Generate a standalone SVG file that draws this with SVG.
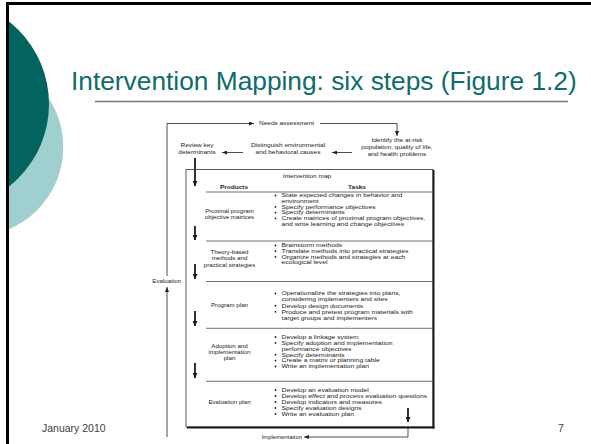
<svg xmlns="http://www.w3.org/2000/svg" width="591" height="444" viewBox="0 0 591 444">
<style>
.f{font-family:"Liberation Sans",Arial,sans-serif;fill:#1c1c1c;font-size:5.9px}
.b{font-weight:bold}
.m{text-anchor:middle}
.ln{stroke:#222;stroke-width:0.8;fill:none}
.bd{stroke:#1a1a1a;stroke-width:1.8;fill:none}
.sep{stroke:#333;stroke-width:0.7}
</style>
<defs>
<clipPath id="slide"><rect x="8" y="4" width="583" height="440"/></clipPath>
<marker id="ah" markerUnits="userSpaceOnUse" markerWidth="5" markerHeight="4" refX="5" refY="2" orient="auto"><path d="M0,0 L5,2 L0,4 z" fill="#222"/></marker>
<marker id="ahb" markerUnits="userSpaceOnUse" markerWidth="5" markerHeight="5" refX="5" refY="2.5" orient="auto"><path d="M0,0 L5,2.5 L0,5 z" fill="#1a1a1a"/></marker>
</defs>
<rect width="591" height="444" fill="#fff"/>
<g id="decor" clip-path="url(#slide)">
<circle cx="-26" cy="147" r="89.3" fill="#9fcfcf"/>
<circle cx="-56" cy="104" r="105" fill="#03645f"/>
</g>
<g id="frame" stroke="#000" stroke-width="3">
<line x1="6" y1="3.5" x2="591" y2="3.5"/>
<line x1="7.5" y1="2" x2="7.5" y2="444"/>
</g>
<g id="title">
<text x="71" y="89.5" font-family="'Liberation Sans',Arial,sans-serif" font-size="26.3" fill="#0e6c69">Intervention Mapping: six steps (Figure 1.2)</text>
<line x1="95" y1="101.5" x2="568" y2="101.5" stroke="#7a7a7a" stroke-width="1.3"/>
</g>
<g id="footer" font-family="'Liberation Sans',Arial,sans-serif" font-size="10.5" fill="#404040">
<text x="42" y="432">January 2010</text>
<text x="558" y="432">7</text>
</g>

<g id="connectors">
<path class="ln" d="M167,276 V123.5 H254" marker-end="url(#ah)"/>
<path class="ln" d="M320,123.5 H397 V136" marker-end="url(#ah)"/>
<path class="ln" d="M352,152.5 H332" marker-end="url(#ah)"/>
<path class="ln" d="M243,152.5 H222" marker-end="url(#ah)"/>
<path class="ln" d="M167,437 V287" marker-end="url(#ah)"/>
<path class="ln" d="M408,427 V437 H304" marker-end="url(#ah)"/>
<path class="bd" d="M195,158 V186" marker-end="url(#ahb)"/>
<path class="bd" d="M195,226 V240" marker-end="url(#ahb)"/>
<path class="bd" d="M195,264 V279" marker-end="url(#ahb)"/>
<path class="bd" d="M195,311 V326" marker-end="url(#ahb)"/>
<path class="bd" d="M195,363 V378" marker-end="url(#ahb)"/>
<path class="bd" d="M408,408 V422" marker-end="url(#ahb)"/>
</g>

<g id="needs-assessment"><text class="f" transform="matrix(1.1 0 0 1 259 125.4)">Needs assessment</text></g>
<g id="identify"><text class="f m" transform="matrix(1.1 0 0 1 397 141.9)"><tspan x="0" y="0">Identify the at-risk</tspan><tspan x="0" y="7">population, quality of life,</tspan><tspan x="0" y="14">and health problems</tspan></text></g>
<g id="distinguish"><text class="f m" transform="matrix(1.1 0 0 1 288 146.6)"><tspan x="0" y="0">Distinguish environmental</tspan><tspan x="0" y="7.3">and behavioral causes</tspan></text></g>
<g id="review"><text class="f m" transform="matrix(1.1 0 0 1 197 146.6)"><tspan x="0" y="0">Review key</tspan><tspan x="0" y="7.3">determinants</tspan></text></g>
<g id="evaluation"><text class="f m" transform="matrix(1.05 0 0 1 166.7 282.9)">Evaluation</text></g>
<g id="implementation"><text class="f" transform="matrix(1 0 0 1 261.7 438.9)">Implementation</text></g>

<g id="intervention-map">
<rect x="186" y="169.5" width="247" height="257.5" fill="none" stroke="#333" stroke-width="0.8"/>
<line x1="433.5" y1="170" x2="433.5" y2="428.5" stroke="#1a1a1a" stroke-width="2"/>
<line x1="187" y1="427.5" x2="434.5" y2="427.5" stroke="#1a1a1a" stroke-width="2"/>
<line class="sep" x1="206" y1="192" x2="433" y2="192"/>
<line class="sep" x1="206" y1="241" x2="433" y2="241"/>
<line class="sep" x1="206" y1="281.5" x2="433" y2="281.5"/>
<line class="sep" x1="206" y1="328.3" x2="433" y2="328.3"/>
<line class="sep" x1="206" y1="381.3" x2="433" y2="381.3"/>
<text class="f m" transform="matrix(1.1 0 0 1 307 178)">Intervention map</text>
<text class="f b m" transform="matrix(1.1 0 0 1 234 189)">Products</text>
<text class="f b m" transform="matrix(1.1 0 0 1 357 189)">Tasks</text>
</g>

<g id="step1">
<text class="f m" transform="matrix(1.05 0 0 1 229.5 212.9)"><tspan x="0" y="0">Proximal program</tspan><tspan x="0" y="6.3">objective matrices</tspan></text>
<g fill="#1c1c1c"><circle cx="275.5" cy="195.5" r="0.9"/><circle cx="275.5" cy="206.9" r="0.9"/><circle cx="275.5" cy="212.6" r="0.9"/><circle cx="275.5" cy="218.3" r="0.9"/></g>
<text class="f" transform="matrix(1.15 0 0 1 281.5 197.4)"><tspan x="0" y="0">State expected changes in behavior and</tspan><tspan x="0" y="5.7">environment</tspan><tspan x="0" y="11.4">Specify performance objectives</tspan><tspan x="0" y="17.1">Specify determinants</tspan><tspan x="0" y="22.8">Create matrices of proximal program objectives,</tspan><tspan x="0" y="28.5">and write learning and change objectives</tspan></text>
</g>

<g id="step2">
<text class="f m" transform="matrix(1.05 0 0 1 229.5 254.4)"><tspan x="0" y="0">Theory-based</tspan><tspan x="0" y="6.1">methods and</tspan><tspan x="0" y="12.2">practical strategies</tspan></text>
<g fill="#1c1c1c"><circle cx="275.5" cy="245.5" r="0.9"/><circle cx="275.5" cy="251.2" r="0.9"/><circle cx="275.5" cy="256.9" r="0.9"/></g>
<text class="f" transform="matrix(1.15 0 0 1 281.5 247.4)"><tspan x="0" y="0">Brainstorm methods</tspan><tspan x="0" y="5.7">Translate methods into practical strategies</tspan><tspan x="0" y="11.4">Organize methods and strategies at each</tspan><tspan x="0" y="17.1">ecological level</tspan></text>
</g>

<g id="step3">
<text class="f m" transform="matrix(1.05 0 0 1 229.5 306.9)">Program plan</text>
<g fill="#1c1c1c"><circle cx="275.5" cy="293.5" r="0.9"/><circle cx="275.5" cy="305.7" r="0.9"/><circle cx="275.5" cy="311.8" r="0.9"/></g>
<text class="f" transform="matrix(1.15 0 0 1 281.5 295.4)"><tspan x="0" y="0">Operationalize the strategies into plans,</tspan><tspan x="0" y="6.1">considering implementers and sites</tspan><tspan x="0" y="12.2">Develop design documents</tspan><tspan x="0" y="18.3">Produce and pretest program materials with</tspan><tspan x="0" y="24.4">target groups and implementers</tspan></text>
</g>

<g id="step4">
<text class="f m" transform="matrix(1.05 0 0 1 229.5 348.2)"><tspan x="0" y="0">Adoption and</tspan><tspan x="0" y="6.1">implementation</tspan><tspan x="0" y="12.2">plan</tspan></text>
<g fill="#1c1c1c"><circle cx="275.5" cy="337" r="0.9"/><circle cx="275.5" cy="342.9" r="0.9"/><circle cx="275.5" cy="354.7" r="0.9"/><circle cx="275.5" cy="360.6" r="0.9"/><circle cx="275.5" cy="366.5" r="0.9"/></g>
<text class="f" transform="matrix(1.15 0 0 1 281.5 338.9)"><tspan x="0" y="0">Develop a linkage system</tspan><tspan x="0" y="5.9">Specify adoption and implementation</tspan><tspan x="0" y="11.8">performance objectives</tspan><tspan x="0" y="17.7">Specify determinants</tspan><tspan x="0" y="23.6">Create a matrix or planning table</tspan><tspan x="0" y="29.5">Write an implementation plan</tspan></text>
</g>

<g id="step5">
<text class="f m" transform="matrix(1.05 0 0 1 229.5 403.6)">Evaluation plan</text>
<g fill="#1c1c1c"><circle cx="275.5" cy="390" r="0.9"/><circle cx="275.5" cy="396" r="0.9"/><circle cx="275.5" cy="402" r="0.9"/><circle cx="275.5" cy="408" r="0.9"/><circle cx="275.5" cy="414" r="0.9"/></g>
<text class="f" transform="matrix(1.15 0 0 1 281.5 391.9)"><tspan x="0" y="0">Develop an evaluation model</tspan><tspan x="0" y="6">Develop <tspan font-style="italic">effect</tspan> and <tspan font-style="italic">process</tspan> evaluation questions</tspan><tspan x="0" y="12">Develop indicators and measures</tspan><tspan x="0" y="18">Specify evaluation designs</tspan><tspan x="0" y="24">Write an evaluation plan</tspan></text>
</g>
</svg>
